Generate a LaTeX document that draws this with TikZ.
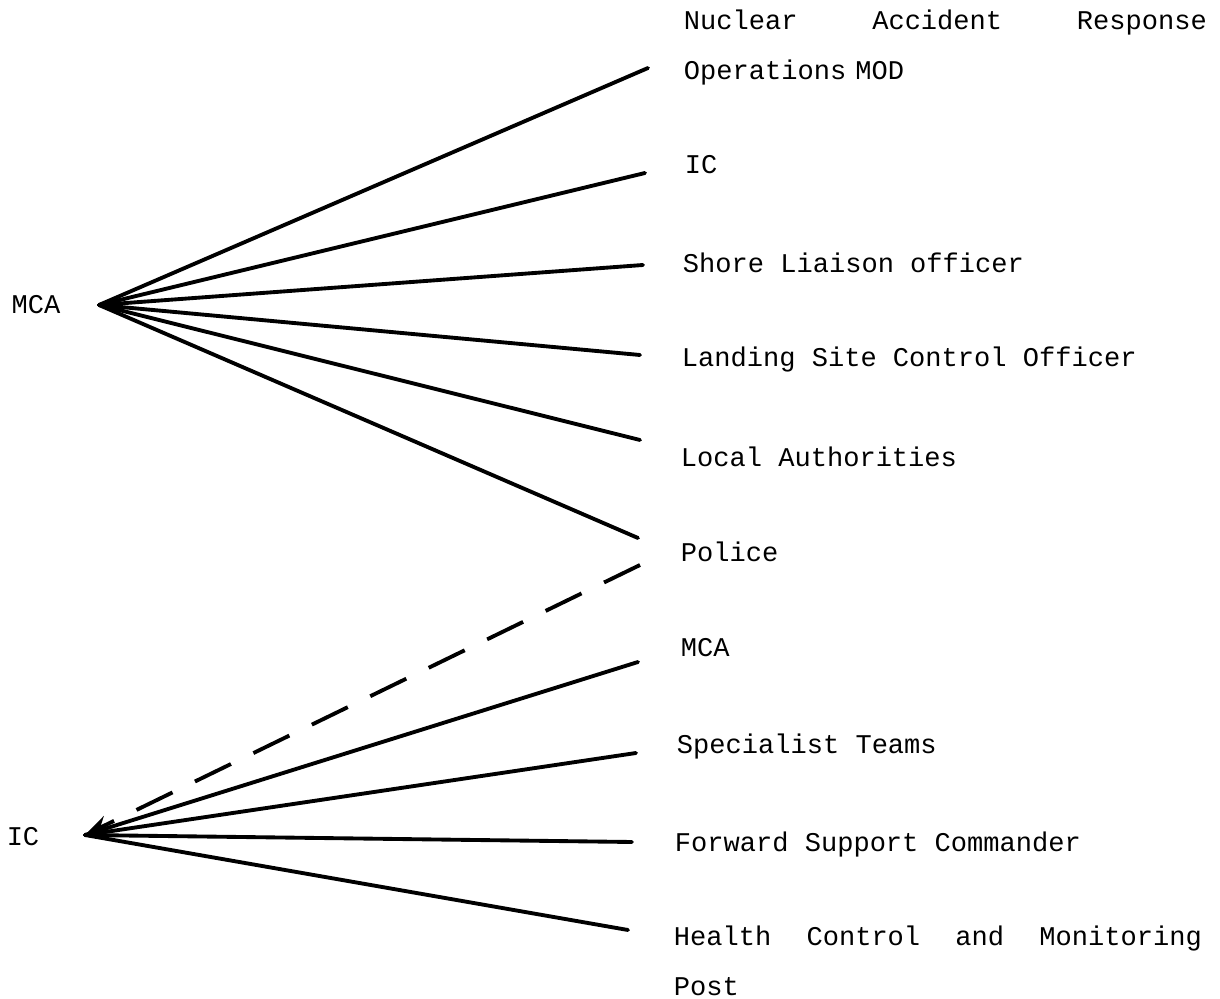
\documentclass[tikz,border=0pt]{standalone}
\usepackage{fontspec}
\setmainfont{Liberation Mono}
\usetikzlibrary{arrows.meta}
\begin{document}
\begin{tikzpicture}[x=0.02cm, y=-0.02cm, line width=2.2pt, line cap=round]
	\tikzstyle{lbl}=[anchor=west, inner sep=0pt, font=\fontsize{15.4}{28.5}\selectfont]
	\tikzstyle{src}=[inner sep=0pt, font=\fontsize{15.4}{28.5}\selectfont]
	\useasboundingbox (0,0) rectangle (1220,999);

	% Sources
	\node[src] (mca) at (36,305) {MCA};
	\node[src] (ic) at (23,837) {IC};
	\coordinate (mcaPt) at (99,305);
	\coordinate (icPt) at (85,835);

	% Ends of the lines
	\coordinate (e1) at (648,68);
	\coordinate (e2) at (645,173);
	\coordinate (e3) at (643,265);
	\coordinate (e4) at (640,355);
	\coordinate (e5) at (640,440);
	\coordinate (e6) at (638,538);
	\coordinate (d1) at (640,565);
	\coordinate (e7) at (638,662);
	\coordinate (e8) at (636,753);
	\coordinate (e9) at (632,842);
	\coordinate (e10) at (628,930);

	% Labels
	\node[lbl, text width=10.46cm, align=left, anchor=north west] (nuc) at (682,8) {\makebox[\linewidth][s]{Nuclear\hfill Accident\hfill Response}\\Operations MOD};
	\node[lbl] (ic2) at (683,165) {IC};
	\node[lbl] (slo) at (681,263) {Shore Liaison officer};
	\node[lbl] (lsco) at (680,360) {Landing Site Control Officer};
	\node[lbl] (la) at (679,457) {Local Authorities};
	\node[lbl] (pol) at (679,552) {Police};
	\node[lbl] (mca2) at (679,648) {MCA};
	\node[lbl] (st) at (675,747) {Specialist Teams};
	\node[lbl] (fsc) at (673,845) {Forward Support Commander};
	\node[lbl, text width=10.56cm, align=left, anchor=north west] (hcmp) at (672,924) {\makebox[\linewidth][s]{Health\hfill Control\hfill and\hfill Monitoring}\\Post};

	% Draw lines
	\foreach \e in {e1,e2,e3,e4,e5,e6}
		\draw (mcaPt) -- (\e);
	\foreach \e in {e7,e8,e9,e10}
		\draw (icPt) -- (\e);
	\draw[dash pattern=on 0.8cm off 0.5cm, -{Stealth[length=5mm,width=3.5mm]}, line cap=butt] (d1) -- (icPt);

\end{tikzpicture}
\end{document}
